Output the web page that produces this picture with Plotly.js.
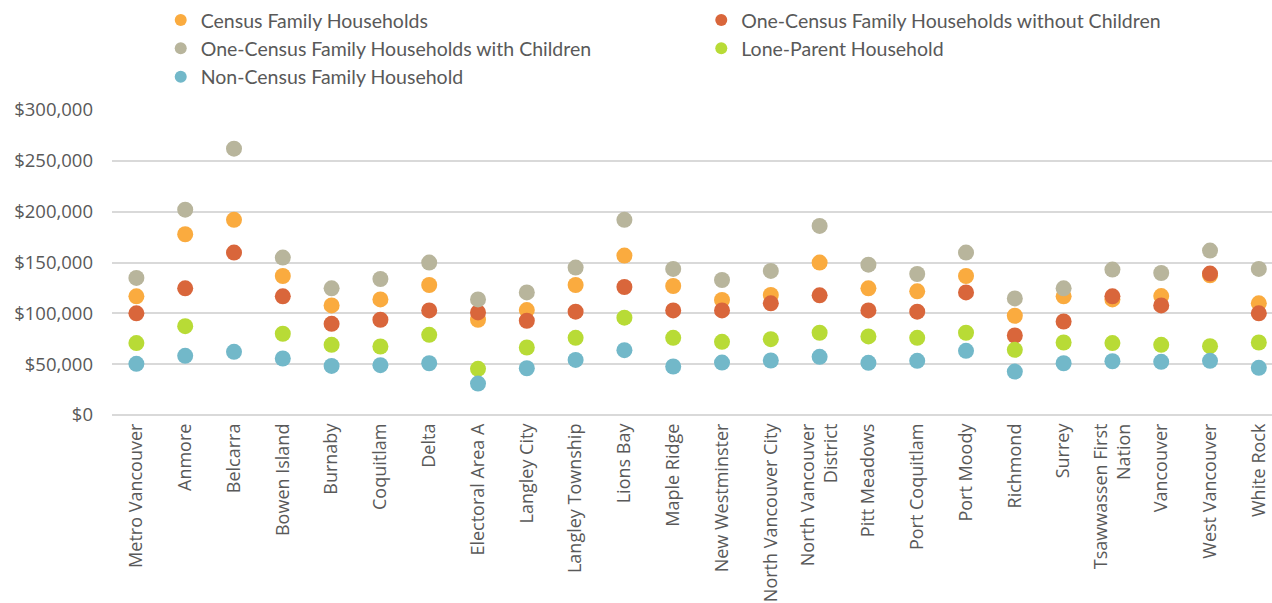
<!DOCTYPE html>
<html>
<head>
<meta charset="utf-8">
<script src="https://cdn.plot.ly/plotly-3.0.1.min.js"></script>
<style>html,body{margin:0;padding:0;background:#fff;}#chart{width:1272px;height:603px;}</style>
</head>
<body>
<div id="chart"></div>
<script>
const categories = ["Metro Vancouver","Anmore","Belcarra","Bowen Island","Burnaby","Coquitlam","Delta","Electoral Area A","Langley City","Langley Township","Lions Bay","Maple Ridge","New Westminster","North Vancouver City","North Vancouver<br>District","Pitt Meadows","Port Coquitlam","Port Moody","Richmond","Surrey","Tsawwassen First<br>Nation","Vancouver","West Vancouver","White Rock"];

const censusFamily    = [116700,177800,192000,136700,107800,113700,127900,93700,103200,127900,156800,126900,113100,118000,149900,124600,121600,136700,97600,116700,113700,117000,137400,109800];
const withoutChildren = [100000,124600,159800,116700,89700,93700,102900,100900,92700,101600,125900,102900,102900,109800,117700,102900,101600,120600,78200,92000,116700,107800,139100,100000];
const withChildren    = [134800,202000,262000,154800,124600,133800,149900,113700,120600,145000,192000,143700,132800,141700,186000,147900,138700,159800,114700,124600,143000,139700,161700,143700];
const loneParent      = [70700,87400,null,79900,69000,67400,78900,45400,66400,75900,95700,75900,72000,74600,80900,77300,75900,80900,64100,71300,70700,69000,67700,71300];
const nonCensus       = [50300,58200,62100,55600,48300,49000,50900,30900,46000,54200,63800,47700,51600,53600,57200,51300,53300,63100,42700,50900,52900,52300,53300,46400];

const seriesNames = ["Census Family Households","One-Census Family Households without Children","One-Census Family Households with Children","Lone-Parent Household","Non-Census Family Household"];
const seriesColors = ["#FAAB3F","#D9663B","#B8B59C","#B8DB36","#72B8C9"];
const seriesData = [censusFamily, withoutChildren, withChildren, loneParent, nonCensus];
const seriesLegend = ["legend","legend2","legend","legend2","legend"];

const xIdx = categories.map((c,i)=>i);
const traces = seriesData.map((d,i)=>({
  type:'scatter', mode:'markers', x:xIdx, y:d, name:seriesNames[i],
  legend:seriesLegend[i], legendgroup:'g'+i,
  marker:{color:seriesColors[i], size:16, line:{width:0}},
  hoverinfo:'y'
}));

const legendFont = {family:'Lato, sans-serif', size:19.5, color:'#595959'};
const layout = {
  width:1272, height:603,
  margin:{l:112, r:0, t:110, b:188, pad:0},
  paper_bgcolor:'#fff', plot_bgcolor:'#fff',
  showlegend:true,
  font:{family:'Open Sans, sans-serif', color:'#595959'},
  xaxis:{
    range:[-0.5, 23.27], tickmode:'array', tickvals:xIdx, ticktext:categories,
    tickangle:-90, showgrid:false, zeroline:false, showline:false, ticks:'',
    ticklabelstandoff:4, ticklabeloverflow:'allow',
    tickfont:{family:'Open Sans, sans-serif', size:18, color:'#595959'},
    fixedrange:true
  },
  yaxis:{
    range:[0, 300000], tickvals:[0,50000,100000,150000,200000,250000,300000],
    ticktext:['$0','$50,000','$100,000','$150,000','$200,000','$250,000','$300,000'],
    showgrid:true, gridcolor:'#D9D9D9', gridwidth:2,
    zeroline:true, zerolinecolor:'#D9D9D9', zerolinewidth:2,
    showline:false, ticks:'', ticklen:0, automargin:false,
    ticklabelstandoff:18,
    tickfont:{family:'Open Sans, sans-serif', size:18.5, color:'#595959'},
    fixedrange:true
  },
  legend:{
    orientation:'v', x:0.042, xanchor:'left', y:1.358, yanchor:'top',
    font:legendFont, traceorder:'grouped', tracegroupgap:0, bgcolor:'rgba(0,0,0,0)',
    itemwidth:30, itemsizing:'constant'
  },
  legend2:{
    orientation:'v', x:0.508, xanchor:'left', y:1.358, yanchor:'top',
    font:legendFont, traceorder:'grouped', tracegroupgap:0, bgcolor:'rgba(0,0,0,0)',
    itemwidth:30, itemsizing:'constant'
  }
};

Plotly.newPlot('chart', traces, layout, {displayModeBar:false, staticPlot:true});
</script>
</body>
</html>
